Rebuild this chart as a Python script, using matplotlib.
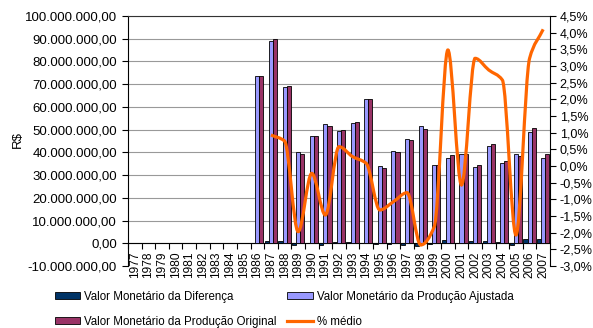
import numpy as np
import matplotlib
matplotlib.use("Agg")
import matplotlib.pyplot as plt
from matplotlib.path import Path
from matplotlib.patches import PathPatch, Patch
from matplotlib.lines import Line2D
from matplotlib.ticker import FuncFormatter, MultipleLocator

plt.rcParams['font.family'] = ['Liberation Sans', 'DejaVu Sans']

years = list(range(1977, 2008))
first_data = 1986
# values in millions of R$, 1986..2007
ajustada = [73.7, 88.9, 68.6, 40.0, 47.4, 52.5, 49.4, 52.9, 63.3, 33.8, 40.6,
            45.9, 51.8, 34.6, 37.6, 39.3, 33.6, 42.7, 35.4, 39.3, 49.0, 37.6]
original = [73.7, 89.8, 69.4, 39.3, 47.4, 51.6, 49.9, 53.4, 63.3, 33.3, 40.2,
            45.3, 50.4, 34.3, 39.0, 39.3, 34.6, 43.9, 36.1, 38.6, 50.7, 39.3]
diferenca = [0.0, 0.9, 0.8, -0.7, 0.0, -0.9, 0.5, 0.5, 0.1, -0.5, -0.4,
             -0.6, -1.4, -0.3, 1.4, 0.1, 1.0, 1.2, 0.7, -0.7, 1.7, 1.7]
# % medio, 1987..2007
pct_start = 1987
pct_medio = [0.93, 0.75, -1.97, -0.22, -1.47, 0.58, 0.28, 0.08, -1.32, -1.07,
             -0.80, -2.37, -1.82, 3.48, -0.57, 3.23, 2.88, 2.58, -2.07, 3.23, 4.10]

c_dif = '#003366'
c_aju = '#9999FF'
c_ori = '#993366'
c_pct = '#FF6600'

fig = plt.figure(figsize=(5.93, 3.28), dpi=100)
fig.subplots_adjust(left=128/593, right=550/593, top=1-16/328, bottom=1-266/328)
ax = fig.add_subplot(111)
ax2 = ax.twinx()

idx = np.arange(len(years))
off = first_data - years[0]
xs = idx[off:off + len(ajustada)]
w = 0.3
scale = 1e6
kw = dict(width=w, edgecolor='black', linewidth=0.6, zorder=3)
ax.bar(xs - w, np.array(diferenca) * scale, color=c_dif, **kw)
ax.bar(xs, np.array(ajustada) * scale, color=c_aju, **kw)
ax.bar(xs + w, np.array(original) * scale, color=c_ori, **kw)

ax.set_xlim(-0.5, len(years) - 0.5)
ax.set_ylim(-10e6, 100e6)
ax.yaxis.set_major_locator(MultipleLocator(10e6))


def brl(v, pos):
    s = '{:,.2f}'.format(v)
    return s.replace(',', 'X').replace('.', ',').replace('X', '.')


ax.yaxis.set_major_formatter(FuncFormatter(brl))
ax.tick_params(axis='y', labelsize=9.5, length=4, width=0.8, pad=4, colors='black')
ax.grid(axis='y', color='#999999', linewidth=0.8, zorder=0)
ax.set_axisbelow(True)

# category axis sits at zero
ax.spines['bottom'].set_position(('data', 0))
ax.spines['right'].set_visible(False)
ax.spines['top'].set_color('#333333')
ax.set_xticks(idx - 0.5)
ax.set_xticklabels([])
ax.set_xticks(idx, minor=True)
ax.set_xticklabels([str(y) for y in years], minor=True, rotation=90, fontsize=8.6)
ax.tick_params(axis='x', which='major', direction='out', length=4, width=0.8)
ax.tick_params(axis='x', which='minor', length=0, pad=6)

# smoothed % line: cubic bezier segments with monotone tangents (no overshoot)
px = idx[pct_start - years[0]: pct_start - years[0] + len(pct_medio)].astype(float)
py = np.array(pct_medio, dtype=float)
n = len(px)
d = np.diff(py) / np.diff(px)
m = np.zeros(n)
m[0], m[-1] = d[0], d[-1]
for i in range(1, n - 1):
    if d[i - 1] * d[i] > 0:
        m[i] = 2 / (1 / d[i - 1] + 1 / d[i])
verts = [(px[0], py[0])]
codes = [Path.MOVETO]
for i in range(n - 1):
    h = px[i + 1] - px[i]
    verts += [(px[i] + h / 3, py[i] + m[i] * h / 3),
              (px[i + 1] - h / 3, py[i + 1] - m[i + 1] * h / 3),
              (px[i + 1], py[i + 1])]
    codes += [Path.CURVE4] * 3
ax2.add_patch(PathPatch(Path(verts, codes), facecolor='none', edgecolor=c_pct,
                        linewidth=2.3, zorder=4))
ax2.set_ylim(-3.0, 4.5)
ax2.yaxis.set_major_locator(MultipleLocator(0.5))
ax2.yaxis.set_major_formatter(FuncFormatter(lambda v, p: '{:.1f}%'.format(v).replace('.', ',')))
ax2.tick_params(axis='y', labelsize=9.1, length=4, width=0.8, pad=3, colors='black')
for s in ['top', 'bottom', 'left']:
    ax2.spines[s].set_visible(False)

fig.text(18/593, 1 - 140/328, 'R$', rotation=90, ha='center', va='center', fontsize=9.5)

handles = [Patch(facecolor=c_dif, edgecolor='black', linewidth=0.6),
           Patch(facecolor=c_ori, edgecolor='black', linewidth=0.6),
           Patch(facecolor=c_aju, edgecolor='black', linewidth=0.6),
           Line2D([], [], color=c_pct, linewidth=2.3)]
labels = ['Valor Monetário da Diferença', 'Valor Monetário da Produção Original',
          'Valor Monetário da Produção Ajustada', '% médio']
fig.legend(handles, labels, ncol=2, loc='upper left', bbox_to_anchor=(55/593, 1 - 291/328),
           frameon=False, fontsize=8.3, borderpad=0, borderaxespad=0,
           handlelength=2.2, handleheight=0.55, handletextpad=0.35,
           columnspacing=0.9, labelspacing=1.1)

fig.savefig('out.png', dpi=100)
